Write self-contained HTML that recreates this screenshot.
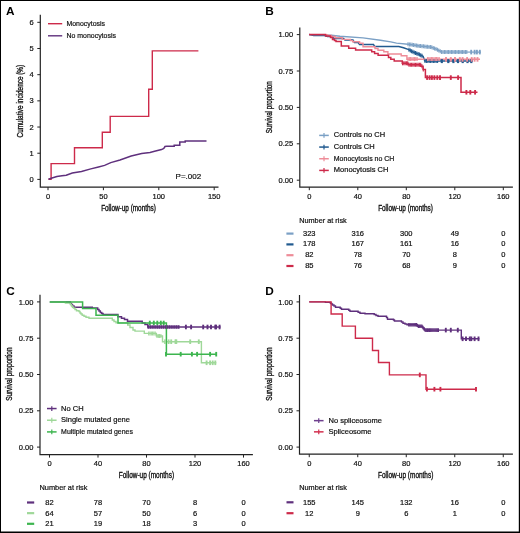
<!DOCTYPE html>
<html><head><meta charset="utf-8"><style>
html,body{margin:0;padding:0;background:#fff;}
svg{display:block;will-change:transform;}
text{font-family:"Liberation Sans", sans-serif;}
.t{font-size:7.5px;fill:#111;stroke:#111;stroke-width:0.2px;}
.c{fill:#111;stroke:#111;stroke-width:0.35px;}
.lbl{font-size:11.8px;font-weight:bold;fill:#000;}
</style></head><body>
<svg width="520" height="533" viewBox="0 0 520 533">
<rect x="0" y="0" width="520" height="533" fill="#fff"/>
<text x="6" y="14.8" class="lbl">A</text>
<path d="M40.3,14.7 V187.2 H218.5" fill="none" stroke="#222" stroke-width="1.2"/>
<path d="M37.3,179.4 H40.3" stroke="#222" stroke-width="1"/>
<text x="33.7" y="182.0" text-anchor="end" class="t">0</text>
<path d="M37.3,153.22 H40.3" stroke="#222" stroke-width="1"/>
<text x="33.7" y="155.82" text-anchor="end" class="t">1</text>
<path d="M37.3,127.04 H40.3" stroke="#222" stroke-width="1"/>
<text x="33.7" y="129.64" text-anchor="end" class="t">2</text>
<path d="M37.3,100.86 H40.3" stroke="#222" stroke-width="1"/>
<text x="33.7" y="103.46" text-anchor="end" class="t">3</text>
<path d="M37.3,74.68 H40.3" stroke="#222" stroke-width="1"/>
<text x="33.7" y="77.28" text-anchor="end" class="t">4</text>
<path d="M37.3,48.5 H40.3" stroke="#222" stroke-width="1"/>
<text x="33.7" y="51.1" text-anchor="end" class="t">5</text>
<path d="M37.3,22.32 H40.3" stroke="#222" stroke-width="1"/>
<text x="33.7" y="24.92" text-anchor="end" class="t">6</text>
<path d="M48.0,187.2 V190.2" stroke="#222" stroke-width="1"/>
<text x="48.0" y="199.0" text-anchor="middle" class="t">0</text>
<path d="M103.4,187.2 V190.2" stroke="#222" stroke-width="1"/>
<text x="103.4" y="199.0" text-anchor="middle" class="t">50</text>
<path d="M158.8,187.2 V190.2" stroke="#222" stroke-width="1"/>
<text x="158.8" y="199.0" text-anchor="middle" class="t">100</text>
<path d="M214.2,187.2 V190.2" stroke="#222" stroke-width="1"/>
<text x="214.2" y="199.0" text-anchor="middle" class="t">150</text>
<text transform="translate(23.0,101.1) rotate(-90)" text-anchor="middle" class="c" style="font-size:8.6px" textLength="72.6" lengthAdjust="spacingAndGlyphs">Cumulative incidence (%)</text>
<text x="128.5" y="211.1" text-anchor="middle" class="c" style="font-size:8.6px" textLength="54.7" lengthAdjust="spacingAndGlyphs">Follow-up (months)</text>
<text x="175.6" y="179.3" class="t" style="font-size:8px">P=.002</text>
<path d="M48,23.7 H62.2" stroke="#cd2a4a" stroke-width="1.4"/>
<path d="M48,35.8 H62.2" stroke="#5f307d" stroke-width="1.4"/>
<text x="66.5" y="26.3" class="t" textLength="38.5" lengthAdjust="spacingAndGlyphs">Monocytosis</text>
<text x="66.5" y="38.3" class="t" textLength="49.4" lengthAdjust="spacingAndGlyphs">No monocytosis</text>
<path d="M48.5,179.3 H51.1 V163.6 H74.5 V147.8 H102.3 V132.2 H110.2 V116.4 H148.7 V89.2 H152.3 V50.9 H198.4" fill="none" stroke="#cd2a4a" stroke-width="1.4"/>
<polyline points="48.5,179.3 52,178 56.9,176.5 62,175.8 66.2,175.2 72.3,173 81.5,171.5 90.8,168.9 98.5,166.9 104.6,165.4 110.8,162.6 120,160 131.2,156 141.7,153.4 150,152.5 154.6,151.3 161.5,149.6 163.8,148.5 165,146.5 166.7,146.2 174.2,146.2 174.2,145.3 179.8,145.3 179.8,141.9 185.2,141.9 185.2,141.1 206.5,141.1" fill="none" stroke="#5f307d" stroke-width="1.5"/>
<text x="265.3" y="15.2" class="lbl">B</text>
<path d="M299.8,27.5 V187.2 H512.9" fill="none" stroke="#222" stroke-width="1.2"/>
<path d="M296.8,180.2 H299.8" stroke="#222" stroke-width="1"/>
<text x="293.2" y="182.8" text-anchor="end" class="t">0.00</text>
<path d="M296.8,143.8 H299.8" stroke="#222" stroke-width="1"/>
<text x="293.2" y="146.4" text-anchor="end" class="t">0.25</text>
<path d="M296.8,107.4 H299.8" stroke="#222" stroke-width="1"/>
<text x="293.2" y="110.0" text-anchor="end" class="t">0.50</text>
<path d="M296.8,71.0 H299.8" stroke="#222" stroke-width="1"/>
<text x="293.2" y="73.6" text-anchor="end" class="t">0.75</text>
<path d="M296.8,34.6 H299.8" stroke="#222" stroke-width="1"/>
<text x="293.2" y="37.2" text-anchor="end" class="t">1.00</text>
<path d="M309.3,187.2 V190.2" stroke="#222" stroke-width="1"/>
<text x="309.3" y="199.0" text-anchor="middle" class="t">0</text>
<path d="M357.8,187.2 V190.2" stroke="#222" stroke-width="1"/>
<text x="357.8" y="199.0" text-anchor="middle" class="t">40</text>
<path d="M406.3,187.2 V190.2" stroke="#222" stroke-width="1"/>
<text x="406.3" y="199.0" text-anchor="middle" class="t">80</text>
<path d="M454.8,187.2 V190.2" stroke="#222" stroke-width="1"/>
<text x="454.8" y="199.0" text-anchor="middle" class="t">120</text>
<path d="M503.3,187.2 V190.2" stroke="#222" stroke-width="1"/>
<text x="503.3" y="199.0" text-anchor="middle" class="t">160</text>
<text transform="translate(271.5,107.2) rotate(-90)" text-anchor="middle" class="c" style="font-size:8.6px" textLength="52" lengthAdjust="spacingAndGlyphs">Survival proportion</text>
<text x="405.5" y="211.1" text-anchor="middle" class="c" style="font-size:8.6px" textLength="54.7" lengthAdjust="spacingAndGlyphs">Follow-up (months)</text>
<path d="M319.2,135.4 H328.8" stroke="#7ba0c5" stroke-width="1.5"/><path d="M324,133.0 V137.8" stroke="#7ba0c5" stroke-width="1.2"/>
<text x="333.8" y="137.4" class="t">Controls no CH</text>
<path d="M319.2,147.07 H328.8" stroke="#215a8f" stroke-width="1.5"/><path d="M324,144.67 V149.47" stroke="#215a8f" stroke-width="1.2"/>
<text x="333.8" y="149.07" class="t">Controls CH</text>
<path d="M319.2,158.74 H328.8" stroke="#ee8c98" stroke-width="1.5"/><path d="M324,156.34 V161.14" stroke="#ee8c98" stroke-width="1.2"/>
<text x="333.8" y="160.74" class="t" textLength="60.6" lengthAdjust="spacingAndGlyphs">Monocytosis no CH</text>
<path d="M319.2,170.41 H328.8" stroke="#cd2a4a" stroke-width="1.5"/><path d="M324,168.01 V172.81" stroke="#cd2a4a" stroke-width="1.2"/>
<text x="333.8" y="172.41" class="t">Monocytosis CH</text>
<text x="299.2" y="223.3" class="t" textLength="47.5" lengthAdjust="spacingAndGlyphs">Number at risk</text>
<rect x="286.4" y="232.5" width="7.1" height="2.2" fill="#7ba0c5"/>
<text x="309.3" y="235.5" text-anchor="middle" class="t">323</text>
<text x="357.8" y="235.5" text-anchor="middle" class="t">316</text>
<text x="406.3" y="235.5" text-anchor="middle" class="t">300</text>
<text x="454.8" y="235.5" text-anchor="middle" class="t">49</text>
<text x="503.3" y="235.5" text-anchor="middle" class="t">0</text>
<rect x="286.4" y="243.3" width="7.1" height="2.2" fill="#215a8f"/>
<text x="309.3" y="246.3" text-anchor="middle" class="t">178</text>
<text x="357.8" y="246.3" text-anchor="middle" class="t">167</text>
<text x="406.3" y="246.3" text-anchor="middle" class="t">161</text>
<text x="454.8" y="246.3" text-anchor="middle" class="t">16</text>
<text x="503.3" y="246.3" text-anchor="middle" class="t">0</text>
<rect x="286.4" y="254.1" width="7.1" height="2.2" fill="#ee8c98"/>
<text x="309.3" y="257.1" text-anchor="middle" class="t">82</text>
<text x="357.8" y="257.1" text-anchor="middle" class="t">78</text>
<text x="406.3" y="257.1" text-anchor="middle" class="t">70</text>
<text x="454.8" y="257.1" text-anchor="middle" class="t">8</text>
<text x="503.3" y="257.1" text-anchor="middle" class="t">0</text>
<rect x="286.4" y="264.9" width="7.1" height="2.2" fill="#cd2a4a"/>
<text x="309.3" y="267.9" text-anchor="middle" class="t">85</text>
<text x="357.8" y="267.9" text-anchor="middle" class="t">76</text>
<text x="406.3" y="267.9" text-anchor="middle" class="t">68</text>
<text x="454.8" y="267.9" text-anchor="middle" class="t">9</text>
<text x="503.3" y="267.9" text-anchor="middle" class="t">0</text>
<polyline points="309.1,34.6 331.4,35.2 340,36.2 363,37.9 380.4,40.2 390.8,41.9 396.5,43.1 408.1,44.2 419.6,46 431.2,47.1 436.9,49.4 441.5,51.9 481,52.1" fill="none" stroke="#7ba0c5" stroke-width="1.4"/>
<polyline points="309.1,34.6 313.7,35.5 324.5,35.5 327.5,36.5 332,36.5 334,38.4 343.5,38.4 345,40.1 353,40.1 354.4,42.4 358,42.6 359.6,44.4 373.5,44.4 374.6,46.6 398.8,46.6 403.5,47.7 408.1,49.4 413.8,52.3 419.6,54.6 423.1,56.3 424.8,61.1 473,61.1" fill="none" stroke="#215a8f" stroke-width="1.5"/>
<path d="M309.1,34.6 H327.5 V35.5 H331.4 V36.5 H335.2 V37.7 H342.2 V39.4 H350.4 V40.6 H352.7 V41.8 H359.6 V43.3 H363 V46.7 H375 V48.5 H378 V50.2 H383.8 V51.7 H387.9 V54 H401.2 V55.8 H406.9 V59.2 H480" fill="none" stroke="#ee8c98" stroke-width="1.4"/>
<path d="M309.1,34.6 H325.6 V36.0 H330.5 V37.6 H332.5 V39.5 H334.5 V40.6 H336 V41.4 H341.3 V46 H348.7 V48.3 H355.6 V50 H371.7 V51.7 H374.6 V53.5 H378.1 V55.2 H388.5 V57.5 H390.8 V59.2 H394.2 V61 H402.3 V63.3 H408.1 V64.8 H420.8 V66.2 H423.1 V69.6 H425.4 V77.6 H461 V92.3 H477.5" fill="none" stroke="#cd2a4a" stroke-width="1.5"/>
<path d="M408,42.19 V46.19" stroke="#7ba0c5" stroke-width="1.1"/><path d="M409.4,42.4 V46.4" stroke="#7ba0c5" stroke-width="1.1"/><path d="M410.8,42.62 V46.62" stroke="#7ba0c5" stroke-width="1.1"/><path d="M412.2,42.84 V46.84" stroke="#7ba0c5" stroke-width="1.1"/><path d="M413.6,43.06 V47.06" stroke="#7ba0c5" stroke-width="1.1"/><path d="M415.0,43.28 V47.28" stroke="#7ba0c5" stroke-width="1.1"/><path d="M416.4,43.5 V47.5" stroke="#7ba0c5" stroke-width="1.1"/><path d="M417.8,43.72 V47.72" stroke="#7ba0c5" stroke-width="1.1"/><path d="M419.2,43.94 V47.94" stroke="#7ba0c5" stroke-width="1.1"/><path d="M420.6,44.09 V48.09" stroke="#7ba0c5" stroke-width="1.1"/><path d="M422.0,44.23 V48.23" stroke="#7ba0c5" stroke-width="1.1"/><path d="M423.4,44.36 V48.36" stroke="#7ba0c5" stroke-width="1.1"/><path d="M424.8,44.49 V48.49" stroke="#7ba0c5" stroke-width="1.1"/><path d="M426.2,44.63 V48.63" stroke="#7ba0c5" stroke-width="1.1"/><path d="M427.6,44.76 V48.76" stroke="#7ba0c5" stroke-width="1.1"/><path d="M429.0,44.89 V48.89" stroke="#7ba0c5" stroke-width="1.1"/><path d="M430.4,45.02 V49.02" stroke="#7ba0c5" stroke-width="1.1"/><path d="M431.8,45.34 V49.34" stroke="#7ba0c5" stroke-width="1.1"/><path d="M433.2,45.91 V49.91" stroke="#7ba0c5" stroke-width="1.1"/><path d="M434.6,46.47 V50.47" stroke="#7ba0c5" stroke-width="1.1"/><path d="M436.0,47.04 V51.04" stroke="#7ba0c5" stroke-width="1.1"/><path d="M437.4,47.67 V51.67" stroke="#7ba0c5" stroke-width="1.1"/><path d="M438.8,48.43 V52.43" stroke="#7ba0c5" stroke-width="1.1"/><path d="M440.2,49.19 V53.19" stroke="#7ba0c5" stroke-width="1.1"/><path d="M441.6,49.9 V53.9" stroke="#7ba0c5" stroke-width="1.1"/><path d="M443.0,49.91 V53.91" stroke="#7ba0c5" stroke-width="1.1"/><path d="M444.4,49.91 V53.91" stroke="#7ba0c5" stroke-width="1.1"/><path d="M445.8,49.92 V53.92" stroke="#7ba0c5" stroke-width="1.1"/><path d="M447.2,49.93 V53.93" stroke="#7ba0c5" stroke-width="1.1"/><path d="M448.6,49.94 V53.94" stroke="#7ba0c5" stroke-width="1.1"/><path d="M450.0,49.94 V53.94" stroke="#7ba0c5" stroke-width="1.1"/><path d="M451.4,49.95 V53.95" stroke="#7ba0c5" stroke-width="1.1"/><path d="M452.8,49.96 V53.96" stroke="#7ba0c5" stroke-width="1.1"/><path d="M454.2,49.96 V53.96" stroke="#7ba0c5" stroke-width="1.1"/><path d="M455.6,49.97 V53.97" stroke="#7ba0c5" stroke-width="1.1"/><path d="M457.0,49.98 V53.98" stroke="#7ba0c5" stroke-width="1.1"/><path d="M458.4,49.99 V53.99" stroke="#7ba0c5" stroke-width="1.1"/><path d="M459.8,49.99 V53.99" stroke="#7ba0c5" stroke-width="1.1"/><path d="M461.2,50.0 V54.0" stroke="#7ba0c5" stroke-width="1.1"/><path d="M462.6,50.01 V54.01" stroke="#7ba0c5" stroke-width="1.1"/><path d="M464.0,50.01 V54.01" stroke="#7ba0c5" stroke-width="1.1"/><path d="M465.4,50.02 V54.02" stroke="#7ba0c5" stroke-width="1.1"/><path d="M466.8,50.03 V54.03" stroke="#7ba0c5" stroke-width="1.1"/>
<path d="M471.2,49.8 V54.4" stroke="#7ba0c5" stroke-width="1.9"/><path d="M474.6,49.8 V54.4" stroke="#7ba0c5" stroke-width="1.9"/><path d="M476.9,49.8 V54.4" stroke="#7ba0c5" stroke-width="1.9"/><path d="M479.8,49.8 V54.4" stroke="#7ba0c5" stroke-width="1.9"/>
<path d="M409,47.86 V51.86" stroke="#215a8f" stroke-width="1.1"/><path d="M410.3,48.52 V52.52" stroke="#215a8f" stroke-width="1.1"/><path d="M411.6,49.18 V53.18" stroke="#215a8f" stroke-width="1.1"/><path d="M412.9,49.84 V53.84" stroke="#215a8f" stroke-width="1.1"/><path d="M414.2,50.46 V54.46" stroke="#215a8f" stroke-width="1.1"/><path d="M415.5,50.97 V54.97" stroke="#215a8f" stroke-width="1.1"/><path d="M416.8,51.49 V55.49" stroke="#215a8f" stroke-width="1.1"/><path d="M418.1,52.01 V56.01" stroke="#215a8f" stroke-width="1.1"/><path d="M419.4,52.52 V56.52" stroke="#215a8f" stroke-width="1.1"/><path d="M420.7,53.13 V57.13" stroke="#215a8f" stroke-width="1.1"/><path d="M422.0,53.77 V57.77" stroke="#215a8f" stroke-width="1.1"/><path d="M425,59.1 V63.1" stroke="#215a8f" stroke-width="1.1"/><path d="M426.4,59.1 V63.1" stroke="#215a8f" stroke-width="1.1"/><path d="M427.8,59.1 V63.1" stroke="#215a8f" stroke-width="1.1"/><path d="M429.2,59.1 V63.1" stroke="#215a8f" stroke-width="1.1"/><path d="M430.6,59.1 V63.1" stroke="#215a8f" stroke-width="1.1"/><path d="M432.0,59.1 V63.1" stroke="#215a8f" stroke-width="1.1"/><path d="M433.4,59.1 V63.1" stroke="#215a8f" stroke-width="1.1"/><path d="M434.8,59.1 V63.1" stroke="#215a8f" stroke-width="1.1"/><path d="M436.2,59.1 V63.1" stroke="#215a8f" stroke-width="1.1"/><path d="M437.6,59.1 V63.1" stroke="#215a8f" stroke-width="1.1"/>
<path d="M441.8,59.1 V63.1" stroke="#215a8f" stroke-width="2.2"/><path d="M448.3,59.1 V63.1" stroke="#215a8f" stroke-width="2.2"/><path d="M453.4,59.1 V63.1" stroke="#215a8f" stroke-width="2.2"/><path d="M458,59.1 V63.1" stroke="#215a8f" stroke-width="2.2"/><path d="M462.7,59.1 V63.1" stroke="#215a8f" stroke-width="2.2"/><path d="M467.5,59.1 V63.1" stroke="#215a8f" stroke-width="2.2"/><path d="M471.3,59.1 V63.1" stroke="#215a8f" stroke-width="2.2"/>
<path d="M408,57.1 V61.1" stroke="#ee8c98" stroke-width="1.1"/><path d="M409.3,57.1 V61.1" stroke="#ee8c98" stroke-width="1.1"/><path d="M410.6,57.1 V61.1" stroke="#ee8c98" stroke-width="1.1"/><path d="M411.9,57.1 V61.1" stroke="#ee8c98" stroke-width="1.1"/><path d="M413.2,57.1 V61.1" stroke="#ee8c98" stroke-width="1.1"/><path d="M414.5,57.1 V61.1" stroke="#ee8c98" stroke-width="1.1"/><path d="M415.8,57.1 V61.1" stroke="#ee8c98" stroke-width="1.1"/><path d="M417.1,57.1 V61.1" stroke="#ee8c98" stroke-width="1.1"/><path d="M427.5,57.1 V61.1" stroke="#ee8c98" stroke-width="1.1"/><path d="M428.8,57.1 V61.1" stroke="#ee8c98" stroke-width="1.1"/><path d="M430.1,57.1 V61.1" stroke="#ee8c98" stroke-width="1.1"/><path d="M431.4,57.1 V61.1" stroke="#ee8c98" stroke-width="1.1"/><path d="M432.7,57.1 V61.1" stroke="#ee8c98" stroke-width="1.1"/><path d="M434.0,57.1 V61.1" stroke="#ee8c98" stroke-width="1.1"/><path d="M435.3,57.1 V61.1" stroke="#ee8c98" stroke-width="1.1"/><path d="M436.6,57.1 V61.1" stroke="#ee8c98" stroke-width="1.1"/><path d="M437.9,57.1 V61.1" stroke="#ee8c98" stroke-width="1.1"/><path d="M439.2,57.1 V61.1" stroke="#ee8c98" stroke-width="1.1"/>
<path d="M446,57.1 V61.7" stroke="#ee8c98" stroke-width="1.9"/><path d="M450.8,57.1 V61.7" stroke="#ee8c98" stroke-width="1.9"/><path d="M455,57.1 V61.7" stroke="#ee8c98" stroke-width="1.9"/><path d="M459.8,57.1 V61.7" stroke="#ee8c98" stroke-width="1.9"/><path d="M462.6,57.1 V61.7" stroke="#ee8c98" stroke-width="1.9"/><path d="M467.1,57.1 V61.7" stroke="#ee8c98" stroke-width="1.9"/><path d="M471.7,57.1 V61.7" stroke="#ee8c98" stroke-width="1.9"/><path d="M474.6,57.1 V61.7" stroke="#ee8c98" stroke-width="1.9"/><path d="M477.5,57.1 V61.7" stroke="#ee8c98" stroke-width="1.9"/>
<path d="M402.5,61.3 V65.3" stroke="#cd2a4a" stroke-width="1.1"/><path d="M403.8,61.3 V65.3" stroke="#cd2a4a" stroke-width="1.1"/><path d="M405.1,61.3 V65.3" stroke="#cd2a4a" stroke-width="1.1"/><path d="M406.4,61.3 V65.3" stroke="#cd2a4a" stroke-width="1.1"/><path d="M407.7,61.3 V65.3" stroke="#cd2a4a" stroke-width="1.1"/><path d="M409.0,62.8 V66.8" stroke="#cd2a4a" stroke-width="1.1"/><path d="M410.3,62.8 V66.8" stroke="#cd2a4a" stroke-width="1.1"/><path d="M411.6,62.8 V66.8" stroke="#cd2a4a" stroke-width="1.1"/><path d="M412.9,62.8 V66.8" stroke="#cd2a4a" stroke-width="1.1"/><path d="M414.2,62.8 V66.8" stroke="#cd2a4a" stroke-width="1.1"/><path d="M415.5,62.8 V66.8" stroke="#cd2a4a" stroke-width="1.1"/><path d="M416.8,62.8 V66.8" stroke="#cd2a4a" stroke-width="1.1"/><path d="M418.1,62.8 V66.8" stroke="#cd2a4a" stroke-width="1.1"/><path d="M419.4,62.8 V66.8" stroke="#cd2a4a" stroke-width="1.1"/><path d="M420.7,62.8 V66.8" stroke="#cd2a4a" stroke-width="1.1"/><path d="M422.0,64.2 V68.2" stroke="#cd2a4a" stroke-width="1.1"/><path d="M423.3,67.6 V71.6" stroke="#cd2a4a" stroke-width="1.1"/>
<path d="M427.1,75.3 V79.9" stroke="#cd2a4a" stroke-width="1.9"/><path d="M429.6,75.3 V79.9" stroke="#cd2a4a" stroke-width="1.9"/><path d="M431.9,75.3 V79.9" stroke="#cd2a4a" stroke-width="1.9"/><path d="M434.4,75.3 V79.9" stroke="#cd2a4a" stroke-width="1.9"/><path d="M437.3,75.3 V79.9" stroke="#cd2a4a" stroke-width="1.9"/><path d="M440,75.3 V79.9" stroke="#cd2a4a" stroke-width="1.9"/><path d="M450.8,75.3 V79.9" stroke="#cd2a4a" stroke-width="1.9"/><path d="M458.1,75.3 V79.9" stroke="#cd2a4a" stroke-width="1.9"/><path d="M466.4,90.0 V94.6" stroke="#cd2a4a" stroke-width="1.9"/><path d="M470.3,90.0 V94.6" stroke="#cd2a4a" stroke-width="1.9"/><path d="M475.1,90.0 V94.6" stroke="#cd2a4a" stroke-width="1.9"/>
<text x="6.2" y="295" class="lbl">C</text>
<path d="M40,294.8 V454.6 H252.9" fill="none" stroke="#222" stroke-width="1.2"/>
<path d="M37,447.1 H40" stroke="#222" stroke-width="1"/>
<text x="33.4" y="449.7" text-anchor="end" class="t">0.00</text>
<path d="M37,410.8 H40" stroke="#222" stroke-width="1"/>
<text x="33.4" y="413.4" text-anchor="end" class="t">0.25</text>
<path d="M37,374.5 H40" stroke="#222" stroke-width="1"/>
<text x="33.4" y="377.1" text-anchor="end" class="t">0.50</text>
<path d="M37,338.2 H40" stroke="#222" stroke-width="1"/>
<text x="33.4" y="340.8" text-anchor="end" class="t">0.75</text>
<path d="M37,301.9 H40" stroke="#222" stroke-width="1"/>
<text x="33.4" y="304.5" text-anchor="end" class="t">1.00</text>
<path d="M49.5,454.6 V457.6" stroke="#222" stroke-width="1"/>
<text x="49.5" y="466.4" text-anchor="middle" class="t">0</text>
<path d="M98.0,454.6 V457.6" stroke="#222" stroke-width="1"/>
<text x="98.0" y="466.4" text-anchor="middle" class="t">40</text>
<path d="M146.5,454.6 V457.6" stroke="#222" stroke-width="1"/>
<text x="146.5" y="466.4" text-anchor="middle" class="t">80</text>
<path d="M195.0,454.6 V457.6" stroke="#222" stroke-width="1"/>
<text x="195.0" y="466.4" text-anchor="middle" class="t">120</text>
<path d="M243.5,454.6 V457.6" stroke="#222" stroke-width="1"/>
<text x="243.5" y="466.4" text-anchor="middle" class="t">160</text>
<text transform="translate(12.1,374.2) rotate(-90)" text-anchor="middle" class="c" style="font-size:8.6px" textLength="53.3" lengthAdjust="spacingAndGlyphs">Survival proportion</text>
<text x="146.4" y="478.15" text-anchor="middle" class="c" style="font-size:8.6px" textLength="55.3" lengthAdjust="spacingAndGlyphs">Follow-up (months)</text>
<path d="M47.0,408.55 H56.6" stroke="#5f307d" stroke-width="1.5"/><path d="M51.8,406.15 V410.95" stroke="#5f307d" stroke-width="1.2"/>
<text x="61.1" y="410.55" class="t">No CH</text>
<path d="M47.0,420.23 H56.6" stroke="#9fd899" stroke-width="1.5"/><path d="M51.8,417.83 V422.63" stroke="#9fd899" stroke-width="1.2"/>
<text x="61.1" y="422.23" class="t">Single mutated gene</text>
<path d="M47.0,431.91 H56.6" stroke="#3db54f" stroke-width="1.5"/><path d="M51.8,429.51 V434.31" stroke="#3db54f" stroke-width="1.2"/>
<text x="61.1" y="433.91" class="t" textLength="71.8" lengthAdjust="spacingAndGlyphs">Multiple mutated genes</text>
<text x="39.5" y="489.9" class="t" textLength="48" lengthAdjust="spacingAndGlyphs">Number at risk</text>
<rect x="27" y="501.4" width="7.2" height="2.2" fill="#5f307d"/>
<text x="49.5" y="505.0" text-anchor="middle" class="t">82</text>
<text x="98.0" y="505.0" text-anchor="middle" class="t">78</text>
<text x="146.5" y="505.0" text-anchor="middle" class="t">70</text>
<text x="195.0" y="505.0" text-anchor="middle" class="t">8</text>
<text x="243.5" y="505.0" text-anchor="middle" class="t">0</text>
<rect x="27" y="512.05" width="7.2" height="2.2" fill="#9fd899"/>
<text x="49.5" y="515.65" text-anchor="middle" class="t">64</text>
<text x="98.0" y="515.65" text-anchor="middle" class="t">57</text>
<text x="146.5" y="515.65" text-anchor="middle" class="t">50</text>
<text x="195.0" y="515.65" text-anchor="middle" class="t">6</text>
<text x="243.5" y="515.65" text-anchor="middle" class="t">0</text>
<rect x="27" y="522.7" width="7.2" height="2.2" fill="#3db54f"/>
<text x="49.5" y="526.3" text-anchor="middle" class="t">21</text>
<text x="98.0" y="526.3" text-anchor="middle" class="t">19</text>
<text x="146.5" y="526.3" text-anchor="middle" class="t">18</text>
<text x="195.0" y="526.3" text-anchor="middle" class="t">3</text>
<text x="243.5" y="526.3" text-anchor="middle" class="t">0</text>
<path d="M49.8,302.1 H70.3 V303.5 H71.5 V304.8 H72.5 V306 H74 V307.2 H92.3 V308.1 H97.7 V309.5 H99 V311 H100.3 V312.4 H101.7 V313.5 H103 V314.4 H117.9 V316.8 H121.5 V318.2 H124.5 V319.5 H127.5 V321.3 H142.2 V323 H145 V324.5 H147.8 V327.0 H220.5" fill="none" stroke="#5f307d" stroke-width="1.5"/>
<path d="M49.8,302.1 H65.4 V303.1 H70.5 V304.5 H71.5 V306 H72.5 V307.2 H73.5 V308.1 H75 V309.5 H76.5 V310.8 H79 V311.5 H80 V313 H81 V314 H82.2 V315.2 H84 V316.3 H86 V317.2 H89 V318.2 H112.3 V320 H114 V321.5 H116 V322.9 H127.7 V325 H130 V327.5 H133 V330 H135 V331.1 H144.3 V333.4 H156.4 V336 H162.5 V341.7 H201.4 V362.8 H216.3" fill="none" stroke="#9fd899" stroke-width="1.4"/>
<path d="M49.8,302.1 H82.6 V308.4 H96 V315.2 H118 V323.0 H166.4 V354.2 H217" fill="none" stroke="#3db54f" stroke-width="1.5"/>
<path d="M148.7,331.4 V335.4" stroke="#9fd899" stroke-width="1.1"/><path d="M150.0,331.4 V335.4" stroke="#9fd899" stroke-width="1.1"/><path d="M151.3,331.4 V335.4" stroke="#9fd899" stroke-width="1.1"/><path d="M152.6,331.4 V335.4" stroke="#9fd899" stroke-width="1.1"/><path d="M153.9,331.4 V335.4" stroke="#9fd899" stroke-width="1.1"/><path d="M155.2,331.4 V335.4" stroke="#9fd899" stroke-width="1.1"/><path d="M157,334.0 V338.0" stroke="#9fd899" stroke-width="1.1"/><path d="M158.3,334.0 V338.0" stroke="#9fd899" stroke-width="1.1"/><path d="M159.6,334.0 V338.0" stroke="#9fd899" stroke-width="1.1"/><path d="M160.9,334.0 V338.0" stroke="#9fd899" stroke-width="1.1"/>
<path d="M165.1,339.4 V344.0" stroke="#9fd899" stroke-width="1.9"/><path d="M168.6,339.4 V344.0" stroke="#9fd899" stroke-width="1.9"/><path d="M171.2,339.4 V344.0" stroke="#9fd899" stroke-width="1.9"/><path d="M175.5,339.4 V344.0" stroke="#9fd899" stroke-width="1.9"/><path d="M176.3,339.4 V344.0" stroke="#9fd899" stroke-width="1.9"/><path d="M190.2,339.4 V344.0" stroke="#9fd899" stroke-width="1.9"/><path d="M198.8,339.4 V344.0" stroke="#9fd899" stroke-width="1.9"/><path d="M206.6,360.5 V365.1" stroke="#9fd899" stroke-width="1.9"/><path d="M210.1,360.5 V365.1" stroke="#9fd899" stroke-width="1.9"/><path d="M212.7,360.5 V365.1" stroke="#9fd899" stroke-width="1.9"/><path d="M215.3,360.5 V365.1" stroke="#9fd899" stroke-width="1.9"/>
<path d="M149.8,320.7 V325.3" stroke="#3db54f" stroke-width="1.9"/><path d="M153.8,320.7 V325.3" stroke="#3db54f" stroke-width="1.9"/><path d="M157.3,320.7 V325.3" stroke="#3db54f" stroke-width="1.9"/><path d="M160.8,320.7 V325.3" stroke="#3db54f" stroke-width="1.9"/><path d="M163.7,320.7 V325.3" stroke="#3db54f" stroke-width="1.9"/><path d="M166,351.9 V356.5" stroke="#3db54f" stroke-width="1.9"/><path d="M180.7,351.9 V356.5" stroke="#3db54f" stroke-width="1.9"/><path d="M191.9,351.9 V356.5" stroke="#3db54f" stroke-width="1.9"/><path d="M197.1,351.9 V356.5" stroke="#3db54f" stroke-width="1.9"/><path d="M210.1,351.9 V356.5" stroke="#3db54f" stroke-width="1.9"/><path d="M216.2,351.9 V356.5" stroke="#3db54f" stroke-width="1.9"/>
<path d="M148.3,325.2 V328.8" stroke="#5f307d" stroke-width="1.7"/><path d="M150.2,325.2 V328.8" stroke="#5f307d" stroke-width="1.7"/><path d="M152.1,325.2 V328.8" stroke="#5f307d" stroke-width="1.7"/><path d="M154.0,325.2 V328.8" stroke="#5f307d" stroke-width="1.7"/><path d="M155.9,325.2 V328.8" stroke="#5f307d" stroke-width="1.7"/><path d="M157.8,325.2 V328.8" stroke="#5f307d" stroke-width="1.7"/><path d="M159.7,325.2 V328.8" stroke="#5f307d" stroke-width="1.7"/><path d="M161.6,325.2 V328.8" stroke="#5f307d" stroke-width="1.7"/><path d="M163.5,325.2 V328.8" stroke="#5f307d" stroke-width="1.7"/><path d="M165.4,325.2 V328.8" stroke="#5f307d" stroke-width="1.7"/><path d="M167.3,325.2 V328.8" stroke="#5f307d" stroke-width="1.7"/><path d="M169.2,325.2 V328.8" stroke="#5f307d" stroke-width="1.7"/><path d="M171.1,325.2 V328.8" stroke="#5f307d" stroke-width="1.7"/><path d="M173.0,325.2 V328.8" stroke="#5f307d" stroke-width="1.7"/><path d="M174.9,325.2 V328.8" stroke="#5f307d" stroke-width="1.7"/><path d="M176.8,325.2 V328.8" stroke="#5f307d" stroke-width="1.7"/><path d="M178.7,325.2 V328.8" stroke="#5f307d" stroke-width="1.7"/>
<path d="M185.9,324.7 V329.3" stroke="#5f307d" stroke-width="1.9"/><path d="M191.1,324.7 V329.3" stroke="#5f307d" stroke-width="1.9"/><path d="M203.2,324.7 V329.3" stroke="#5f307d" stroke-width="1.9"/><path d="M207.5,324.7 V329.3" stroke="#5f307d" stroke-width="1.9"/><path d="M211,324.7 V329.3" stroke="#5f307d" stroke-width="1.9"/><path d="M215.3,324.7 V329.3" stroke="#5f307d" stroke-width="1.9"/><path d="M216.1,324.7 V329.3" stroke="#5f307d" stroke-width="1.9"/><path d="M219.6,324.7 V329.3" stroke="#5f307d" stroke-width="1.9"/>
<text x="265.3" y="295" class="lbl">D</text>
<path d="M299.5,295 V454.2 H512.9" fill="none" stroke="#222" stroke-width="1.2"/>
<path d="M296.5,447.1 H299.5" stroke="#222" stroke-width="1"/>
<text x="292.9" y="449.7" text-anchor="end" class="t">0.00</text>
<path d="M296.5,410.8 H299.5" stroke="#222" stroke-width="1"/>
<text x="292.9" y="413.4" text-anchor="end" class="t">0.25</text>
<path d="M296.5,374.5 H299.5" stroke="#222" stroke-width="1"/>
<text x="292.9" y="377.1" text-anchor="end" class="t">0.50</text>
<path d="M296.5,338.2 H299.5" stroke="#222" stroke-width="1"/>
<text x="292.9" y="340.8" text-anchor="end" class="t">0.75</text>
<path d="M296.5,301.9 H299.5" stroke="#222" stroke-width="1"/>
<text x="292.9" y="304.5" text-anchor="end" class="t">1.00</text>
<path d="M309.25,454.2 V457.2" stroke="#222" stroke-width="1"/>
<text x="309.25" y="466.0" text-anchor="middle" class="t">0</text>
<path d="M357.75,454.2 V457.2" stroke="#222" stroke-width="1"/>
<text x="357.75" y="466.0" text-anchor="middle" class="t">40</text>
<path d="M406.25,454.2 V457.2" stroke="#222" stroke-width="1"/>
<text x="406.25" y="466.0" text-anchor="middle" class="t">80</text>
<path d="M454.75,454.2 V457.2" stroke="#222" stroke-width="1"/>
<text x="454.75" y="466.0" text-anchor="middle" class="t">120</text>
<path d="M503.25,454.2 V457.2" stroke="#222" stroke-width="1"/>
<text x="503.25" y="466.0" text-anchor="middle" class="t">160</text>
<text transform="translate(272.2,374.2) rotate(-90)" text-anchor="middle" class="c" style="font-size:8.6px" textLength="53.3" lengthAdjust="spacingAndGlyphs">Survival proportion</text>
<text x="405.7" y="478.2" text-anchor="middle" class="c" style="font-size:8.6px" textLength="55.3" lengthAdjust="spacingAndGlyphs">Follow-up (months)</text>
<path d="M313.95,420.65 H323.55" stroke="#6e3f8e" stroke-width="1.5"/><path d="M318.75,418.25 V423.05" stroke="#6e3f8e" stroke-width="1.2"/>
<text x="328.5" y="422.65" class="t">No spliceosome</text>
<path d="M313.95,431.85 H323.55" stroke="#d3304f" stroke-width="1.5"/><path d="M318.75,429.45 V434.25" stroke="#d3304f" stroke-width="1.2"/>
<text x="328.5" y="433.85" class="t">Spliceosome</text>
<text x="299.2" y="489.9" class="t" textLength="47.7" lengthAdjust="spacingAndGlyphs">Number at risk</text>
<rect x="286.5" y="501.2" width="7" height="2.2" fill="#5f307d"/>
<text x="309.25" y="504.8" text-anchor="middle" class="t">155</text>
<text x="357.75" y="504.8" text-anchor="middle" class="t">145</text>
<text x="406.25" y="504.8" text-anchor="middle" class="t">132</text>
<text x="454.75" y="504.8" text-anchor="middle" class="t">16</text>
<text x="503.25" y="504.8" text-anchor="middle" class="t">0</text>
<rect x="286.5" y="512.1" width="7" height="2.2" fill="#cd2a4a"/>
<text x="309.25" y="515.7" text-anchor="middle" class="t">12</text>
<text x="357.75" y="515.7" text-anchor="middle" class="t">9</text>
<text x="406.25" y="515.7" text-anchor="middle" class="t">6</text>
<text x="454.75" y="515.7" text-anchor="middle" class="t">1</text>
<text x="503.25" y="515.7" text-anchor="middle" class="t">0</text>
<path d="M309.2,301.9 H325.4 V302.4 H330.4 V303.2 H331.5 V304 H332.5 V305 H334 V306 H335.5 V307.2 H340.2 V308.2 H341.5 V309.2 H348.8 V310.2 H350 V311.3 H358.1 V312.3 H360 V313.2 H365 V313.7 H374.2 V314.5 H376 V315.5 H378 V316.3 H386.5 V317.5 H387.5 V319.2 H393.5 V320 H394.5 V321 H401.5 V322 H403 V323.3 H405 V324 H407 V324.8 H416.5 V325.5 H417.5 V326.2 H422.3 V327.5 H423.5 V328.8 H424.5 V330.1 H461.3 V338.8 H479.4" fill="none" stroke="#5f307d" stroke-width="1.4"/>
<path d="M309.2,301.9 H331.1 V314 H342.2 V326.1 H355.4 V338.3 H372.5 V350.5 H378.5 V362.5 H389.4 V374.9 H426 V389.2 H476" fill="none" stroke="#cd2a4a" stroke-width="1.4"/>
<path d="M408.7,323.0 V326.6" stroke="#5f307d" stroke-width="1.2"/><path d="M409.8,323.0 V326.6" stroke="#5f307d" stroke-width="1.2"/><path d="M410.9,323.0 V326.6" stroke="#5f307d" stroke-width="1.2"/><path d="M412.0,323.0 V326.6" stroke="#5f307d" stroke-width="1.2"/><path d="M413.1,323.0 V326.6" stroke="#5f307d" stroke-width="1.2"/><path d="M414.2,323.0 V326.6" stroke="#5f307d" stroke-width="1.2"/><path d="M415.3,323.0 V326.6" stroke="#5f307d" stroke-width="1.2"/><path d="M416.4,323.0 V326.6" stroke="#5f307d" stroke-width="1.2"/><path d="M417.5,323.7 V327.3" stroke="#5f307d" stroke-width="1.2"/><path d="M418.6,324.4 V328.0" stroke="#5f307d" stroke-width="1.2"/><path d="M419.7,324.4 V328.0" stroke="#5f307d" stroke-width="1.2"/><path d="M420.8,324.4 V328.0" stroke="#5f307d" stroke-width="1.2"/><path d="M421.9,324.4 V328.0" stroke="#5f307d" stroke-width="1.2"/><path d="M423.0,325.7 V329.3" stroke="#5f307d" stroke-width="1.2"/><path d="M424.1,327.0 V330.6" stroke="#5f307d" stroke-width="1.2"/><path d="M425.2,328.3 V331.9" stroke="#5f307d" stroke-width="1.2"/><path d="M426.3,328.3 V331.9" stroke="#5f307d" stroke-width="1.2"/><path d="M427.4,328.3 V331.9" stroke="#5f307d" stroke-width="1.2"/><path d="M428.5,328.3 V331.9" stroke="#5f307d" stroke-width="1.2"/><path d="M429.6,328.3 V331.9" stroke="#5f307d" stroke-width="1.2"/><path d="M430.7,328.3 V331.9" stroke="#5f307d" stroke-width="1.2"/><path d="M431.8,328.3 V331.9" stroke="#5f307d" stroke-width="1.2"/><path d="M432.9,328.3 V331.9" stroke="#5f307d" stroke-width="1.2"/><path d="M434.0,328.3 V331.9" stroke="#5f307d" stroke-width="1.2"/><path d="M435.1,328.3 V331.9" stroke="#5f307d" stroke-width="1.2"/><path d="M436.2,328.3 V331.9" stroke="#5f307d" stroke-width="1.2"/><path d="M437.3,328.3 V331.9" stroke="#5f307d" stroke-width="1.2"/><path d="M438.4,328.3 V331.9" stroke="#5f307d" stroke-width="1.2"/>
<path d="M445.8,327.8 V332.4" stroke="#5f307d" stroke-width="1.9"/><path d="M450.8,327.8 V332.4" stroke="#5f307d" stroke-width="1.9"/><path d="M457.8,327.8 V332.4" stroke="#5f307d" stroke-width="1.9"/><path d="M462.6,336.5 V341.1" stroke="#5f307d" stroke-width="1.9"/><path d="M466,336.5 V341.1" stroke="#5f307d" stroke-width="1.9"/><path d="M469.8,336.5 V341.1" stroke="#5f307d" stroke-width="1.9"/><path d="M471.3,336.5 V341.1" stroke="#5f307d" stroke-width="1.9"/><path d="M474.6,336.5 V341.1" stroke="#5f307d" stroke-width="1.9"/><path d="M478.5,336.5 V341.1" stroke="#5f307d" stroke-width="1.9"/>
<path d="M419.8,372.6 V377.2" stroke="#cd2a4a" stroke-width="1.9"/><path d="M426.9,386.9 V391.5" stroke="#cd2a4a" stroke-width="1.9"/><path d="M434.4,386.9 V391.5" stroke="#cd2a4a" stroke-width="1.9"/><path d="M440.4,386.9 V391.5" stroke="#cd2a4a" stroke-width="1.9"/><path d="M476,386.9 V391.5" stroke="#cd2a4a" stroke-width="1.9"/>
<rect x="0" y="0" width="520" height="1" fill="#000"/><rect x="0" y="0" width="1" height="533" fill="#000"/><rect x="518.8" y="0" width="1.2" height="533" fill="#000"/><rect x="0" y="531.5" width="520" height="1.5" fill="#000"/>
</svg>
</body></html>
